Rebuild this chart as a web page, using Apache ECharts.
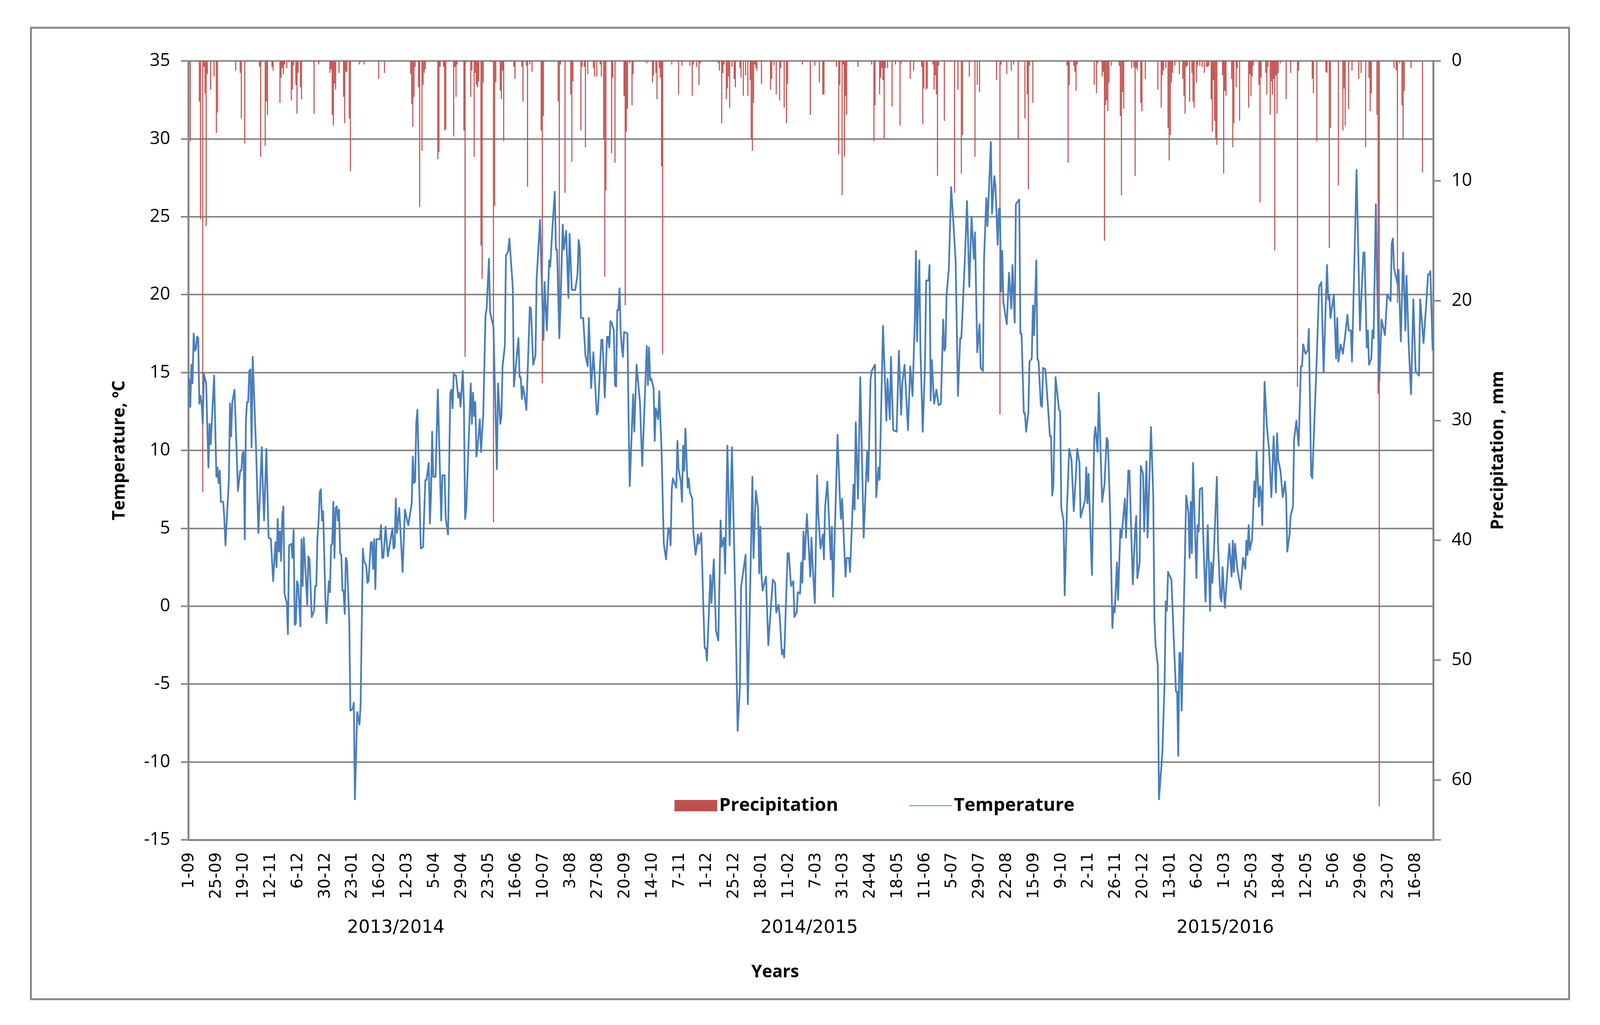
<!DOCTYPE html>
<html>
<head>
<meta charset="utf-8">
<title>Temperature and precipitation</title>
<script src="https://cdn.jsdelivr.net/npm/echarts@6/dist/echarts.min.js"></script>
<style>
  html, body { margin: 0; padding: 0; background: #fff; overflow: hidden; }
  #chart { width: 100vw; height: 100vh; }
</style>
</head>
<body>
<div id="chart"></div>
<script>
// tick labels, one every 24 days from 1 Sep 2013
var tickLabels = ['1-09','25-09','19-10','12-11','6-12','30-12','23-01','16-02','12-03','5-04','29-04','23-05','16-06','10-07','3-08','27-08','20-09','14-10','7-11','1-12','25-12','18-01','11-02','7-03','31-03','24-04','18-05','11-06','5-07','29-07','22-08','15-09','9-10','2-11','26-11','20-12','13-01','6-02','1-03','25-03','18-04','12-05','5-06','29-06','23-07','16-08'];
var dayCount = 1096;
var seasons = ['2013/2014', '2014/2015', '2015/2016'];

// [day, degrees C], turning points of the curve
var temp2013 = [[0,14.6],[1,12.8],[2,15.5],[3,14.3],[4,17.5],[5,16.4],[6,16.5],[7,17.3],[8,17.2],[9,13],[10,13.5],[11,13],[12,11.7],[13,14.9],[15,14.3],[17,8.9],[18,11.7],[19,10.4],[22,14.8],[24,8.3],[25,8.9],[26,7.9],[27,8.7],[28,6.7],[30,6.7],[31,5.6],[32,3.9],[35,8.1],[36,13],[37,10.9],[38,13.1],[40,13.9],[43,7.4],[45,8.7],[46,8.7],[47,9.8],[48,9.9],[49,4.3],[50,11.9],[51,13.1],[52,13.1],[53,15.1],[54,15.2],[55,10.2],[56,16],[59,10],[61,4.7],[64,10.2],[65,7.5],[66,5.5],[68,10.1],[70,4.4],[72,4.3],[74,1.6],[76,4.1],[77,2.5],[78,5.6],[79,3.5],[80,4.8],[81,2.9],[82,5.8],[83,6.4],[84,0.8],[86,0.2],[87,-1.8],[88,3.9],[90,4],[91,3.1],[92,4.9],[93,-1.2],[94,-1.1],[95,1.6],[96,1.4],[98,-1.3],[99,4.3],[100,1.3],[101,4.4],[104,0.1],[105,3.2],[106,3],[108,-0.7],[110,-0.3],[111,1.3],[112,1.3],[113,4.4],[114,5.4],[115,7.3],[116,7.5],[117,5.5],[118,6.1],[120,0.4],[121,-1.1],[123,1.6],[124,0.9],[125,3.9],[126,4],[127,6.7],[128,3.1],[129,6.3],[130,6.4],[131,5.5],[132,6.2],[133,3.4],[134,3.3],[135,1],[136,1],[137,-0.5],[138,3.1],[139,2.9],[141,-0.9],[142,-6.7],[144,-6.6],[145,-6.2],[146,-12.4],[148,-6.8],[150,-7.6],[151,-6.3],[153,3.7],[154,2.9],[156,2.6],[157,1.5],[158,1.6],[160,4.1],[161,4.1],[162,2.4],[163,4.3],[164,1.1],[165,4.3],[168,4.3],[169,5.2],[170,3.1],[171,3.1],[173,5.1],[175,3.2],[179,5],[180,3.7],[181,3.8],[182,6.9],[183,4.7],[185,6.3],[188,2.2],[190,6.2],[192,5.5],[193,5.2],[196,6.6],[197,9.6],[198,7.9],[199,8],[200,11.7],[201,12.6],[204,3.7],[206,3.8],[208,8.1],[209,8.1],[211,9.2],[212,5.3],[213,7.1],[214,11.2],[215,8.3],[217,8.3],[219,13.9],[222,5.5],[223,8.4],[225,8.4],[226,5.6],[228,4.6],[230,13.7],[231,13.9],[232,12.7],[233,14.9],[235,14.8],[237,13.4],[238,13.7],[239,12.8],[241,15.1],[242,12.8],[243,5.6],[244,6.2],[248,14.3],[249,11.7],[250,13.7],[251,12.2],[252,13.1],[253,9.6],[254,10.2],[256,12],[257,9.9],[259,12.3],[261,18.7],[262,19.1],[264,22.3],[265,18.9],[268,17.9],[271,8.8],[272,14.3],[274,11.7],[275,12.2],[276,15.4],[278,16.7],[279,22.5],[281,22.8],[282,23.6],[285,20.5],[286,14.1],[290,17.2],[291,14.7],[292,14.7],[293,13.3],[294,14.1],[295,13.7],[297,12.6],[300,19.2],[301,19.1],[303,15.5],[305,16.1],[306,21],[309,24.8],[312,17.1],[313,20.8],[315,17.7],[317,22.2],[318,21.8],[320,24.4],[322,26.6],[323,22.9],[324,22.9],[326,17.2],[327,19.3],[329,24.5],[330,22.9],[332,24.1],[334,19.8],[335,23.9],[337,20.3],[340,20.3],[342,21.3],[343,23.5],[344,23],[345,18.5],[347,18.5],[349,16.1],[351,15.4],[352,18.5],[354,14],[356,16.3],[359,12.3],[360,12.5],[362,15.7],[363,17.1],[364,17.1]];
var temp2014 = [[366,13.4],[368,17.3],[369,17.3],[370,16.6],[371,18.3],[372,18.2],[374,17.7],[375,14.2],[376,14.1],[377,19],[378,19],[379,20.4],[380,17.7],[381,16.6],[382,16],[383,17.6],[386,17.5],[387,11.9],[388,7.7],[391,13.6],[392,11.2],[394,15.5],[397,13.1],[398,11],[399,9],[403,16.7],[404,14.2],[405,16.6],[406,14.5],[407,14.6],[409,14],[410,10.6],[411,12.7],[413,12],[414,13.8],[416,10],[418,4],[420,3],[422,5],[423,5],[424,3.9],[425,7.5],[426,8.2],[429,7.6],[430,10.6],[431,8.8],[433,8],[434,6.7],[435,10.3],[436,8.7],[437,11.4],[439,7.6],[440,8.2],[441,7.3],[443,6.9],[444,4.8],[446,3.3],[447,3.8],[448,4.6],[449,4],[451,4.7],[453,-0.5],[454,-2.7],[455,-2.7],[456,-3.5],[459,2],[460,0.2],[462,3],[464,-1.6],[466,-2.2],[468,5.5],[469,3.8],[471,4.4],[472,2.1],[474,10.3],[476,3.9],[478,10.2],[481,0.3],[483,-8],[485,-5.2],[486,1.2],[490,3.3],[492,-6.3],[496,8.3],[497,3.1],[499,7.4],[501,6.3],[502,2.1],[503,5.1],[504,2],[505,1],[508,1.9],[510,-2.5],[514,1.7],[516,1.5],[517,-0.4],[519,0.1],[520,-0.6],[522,-3.1],[523,-2.8],[524,-3.3],[527,3.4],[528,3.4],[530,1.3],[532,1.6],[533,-0.7],[535,-0.4],[536,0.9],[538,0.8],[539,2.8],[540,1.5],[541,4.8],[542,3],[544,5.9],[547,1.9],[548,4.4],[549,2.7],[551,0.2],[553,8.4],[554,5.9],[556,3.7],[558,4.6],[559,3],[560,6.3],[562,8],[565,3],[566,5.1],[567,0.6],[571,11],[573,7],[574,5.6],[575,6.9],[578,1.9],[579,3.1],[581,3.1],[582,2.2],[585,7.8],[586,6.2],[587,11.8],[589,6.9],[591,14.7],[594,4.4],[597,9.9],[598,8],[600,14.5],[601,15.1],[604,15.5],[605,7],[607,8.9],[608,8.1],[611,18],[614,11.9],[615,14.6],[617,12],[618,16],[620,11.3],[623,11.2],[625,16.4],[627,12.3],[628,14.3],[630,15.5],[633,11.3],[635,15.4],[637,13.5],[639,18.3],[640,22.8],[641,17],[643,22.2],[644,16.4],[646,11.2],[648,15.6],[649,20.9],[651,20.9],[652,21.9],[653,13.2],[654,15.8],[656,13],[658,13.9],[660,12.9],[662,13],[664,18.4],[665,16.4],[666,16.6],[667,20],[669,21.7],[671,26.9],[673,24.6],[675,22.1],[677,13.5],[679,17.2],[680,17.2],[683,22.1],[685,26],[687,20.5],[689,25],[691,22.3],[692,24],[694,16.3],[696,18.1],[697,15.3],[699,15.1],[700,22.3],[702,26.2],[703,24.4],[706,29.8],[707,25.2],[709,27.6],[710,27],[712,23.2],[713,25.5],[714,25.5],[715,20.2],[716,22.8],[717,19.5],[720,18.1],[722,21.4],[724,19.1],[725,21.9],[727,18.2],[728,25.8]];
var temp2015 = [[731,26.1],[732,17.5],[733,17.5],[735,12.4],[736,12.4],[737,11.2],[739,12.4],[740,15.7],[742,15.9],[743,19.3],[744,17.4],[746,22.2],[747,15.9],[748,15.7],[750,12.9],[751,12.8],[752,15.3],[754,15.2],[756,13.1],[758,10.9],[759,10.9],[760,7.1],[761,7.7],[763,14.7],[764,14],[766,12.6],[767,12.5],[768,6.3],[770,5.5],[771,0.7],[773,6.3],[775,10.1],[777,9.4],[779,6.1],[781,8.6],[782,10.1],[784,9.2],[785,5.7],[789,6.8],[790,8.9],[791,6.6],[792,8.5],[795,2],[797,10.8],[798,11.5],[800,9.9],[801,13.7],[804,6.7],[806,7.8],[808,10.8],[809,10.6],[811,6.1],[813,-1.4],[814,0],[815,-0.4],[817,2.8],[818,0.4],[820,4.9],[821,4.4],[824,6.9],[825,4.4],[827,8.7],[828,8.7],[831,1.4],[833,4.9],[834,5.8],[835,1.8],[837,2.8],[838,9],[840,8.5],[841,4.8],[843,9.3],[844,4.4],[847,11.5],[849,7],[850,-0.8],[851,-2.5],[853,-3.8],[854,-12.4],[857,-9.4],[859,-4.8],[860,0.3],[861,-0.3],[862,2.2],[865,1.7],[867,-2],[869,-5.5],[870,-5.5],[871,-9.6],[872,-3],[873,-3],[874,-6.7],[878,7.1],[880,6],[881,3.1],[882,6.7],[883,3.4],[884,9.2],[887,1.8],[888,5.2],[889,4.8],[890,7.5],[892,7.6],[893,4.5],[895,0.3],[897,5.2],[899,-0.3],[900,2.8],[901,1.5],[902,2.8],[905,8.3],[906,4],[908,0.6],[909,0.3],[910,2.5],[912,-0.1],[915,3],[916,4],[918,1.9],[919,4.2],[920,2.2],[921,4],[923,2.4],[926,1.1],[928,3.1],[930,2.4],[931,4.2],[932,3.3],[933,5.2],[934,3.6],[936,4.3],[938,8],[939,7],[940,9.9],[942,6.4],[943,7.7],[944,7.3],[945,5.2],[947,14.4],[949,11.6],[951,10],[953,7],[955,10.9],[957,7.3],[958,11.1],[959,9.4],[961,8.7],[963,7],[965,8],[966,7],[967,3.5],[969,4.6],[970,5.8],[972,6.4],[973,10.7],[975,11.9],[977,10.3],[979,15.4],[980,15.4],[981,16.8],[983,16.2],[985,16.4],[986,17.8],[988,8.4],[989,8.2],[993,16],[995,20.5],[997,20.8],[999,15],[1001,19.7],[1002,21.9],[1003,19.7],[1004,20],[1005,18.5],[1008,20],[1010,15.9],[1011,18.5],[1012,15.7],[1014,16.8],[1016,16.2],[1018,17.4],[1020,18.7],[1021,17.7],[1023,17.7],[1024,15.7],[1028,28],[1031,17.7],[1034,22.7],[1035,22.7],[1037,16.6],[1038,17.7],[1039,15.5],[1041,15.9],[1042,17.7],[1043,17.2],[1045,25.8],[1046,21.3],[1048,14.4],[1050,18.4],[1053,17.4],[1055,20],[1058,19.6],[1059,23.3],[1060,23.6],[1061,21.7],[1064,20.7],[1065,21.6],[1067,17],[1069,22.7],[1071,17.7],[1072,21.2],[1074,16.6],[1076,13.6],[1078,19.7],[1080,15.1],[1083,14.8],[1084,19.7],[1087,16.9],[1089,19],[1091,21.3],[1092,21.3],[1093,21.5],[1095,16.4]];

// [day, mm], dry days are left out
var rain2013 = [[1,6.7],[9,3.4],[10,13.2],[12,36],[13,0.5],[14,2.7],[15,13.8],[16,1.1],[19,2.4],[22,1.3],[24,6],[25,4.3],[41,0.8],[45,1],[46,4.8],[49,6.9],[62,0.5],[63,8],[64,0.1],[67,7.1],[68,3.4],[69,4.5],[73,0.5],[74,0.8],[80,3.5],[81,1.4],[82,0.6],[83,1.1],[84,0.3],[86,0.6],[88,0.1],[90,3.3],[91,2.4],[92,0.4],[94,2],[95,4.4],[96,1],[98,2.2],[99,3.2],[110,4.4],[114,0.3],[115,0.1],[124,1],[125,0.7],[126,4.5],[127,5.4],[128,1.9],[129,2.4],[132,1],[136,3],[137,5.2],[138,0.9],[139,0.9],[141,4.8],[142,9.2],[150,0.3],[151,0.1],[154,0.3],[167,1.5],[172,1],[195,1.1],[196,3.6],[197,5.5],[198,3],[199,0.5],[202,2.2],[203,12.2],[205,7.5],[206,2],[207,1],[208,0.7],[219,8.2],[220,7.6],[221,0.5],[224,0.5],[225,5.8],[226,5.7],[233,6.3],[234,0.5],[235,3],[236,0.3],[242,5.8],[243,24.7],[244,0.1],[248,3],[249,0.8],[251,8],[252,1],[253,2],[254,2.2],[255,1.7],[257,15.4],[258,18.2],[259,1.8],[266,0.1],[268,38.5],[269,12.1],[270,1.8],[274,2.5],[275,3.2],[276,0.8],[277,6.7],[286,0.5],[287,1.5],[293,0.5],[294,3.4],[297,0.4],[298,10.5],[300,0.3],[302,0.9],[310,5.8],[311,26.9],[312,4.6],[325,3.4],[326,20.7],[327,0.3],[331,11],[336,2.8],[337,8.4],[338,1.7],[345,5.8],[346,0.5],[348,0.5],[349,7.2],[351,1.1],[356,0.6],[357,1.3],[359,1.3],[362,0.3],[363,1.3]];
var rain2014 = [[365,6.5],[366,18],[367,10.8],[372,7.7],[373,1.4],[375,8.5],[383,2.9],[384,20.4],[385,5.9],[386,4],[388,0.2],[390,3.7],[391,1.1],[403,0.2],[408,1.8],[409,1.2],[411,1],[412,3.2],[414,0.6],[415,1.4],[416,8.8],[417,24.5],[425,0.3],[431,2.8],[434,0.4],[441,0.4],[443,2.9],[444,0.3],[447,0.5],[449,2],[450,0.2],[466,0.2],[467,0.8],[469,5.2],[470,1],[471,0.3],[473,3.2],[474,2.3],[475,1.3],[476,3.9],[478,0.5],[480,1.5],[481,2.2],[485,0.6],[486,1.4],[488,2.9],[490,1.2],[492,2.9],[494,1.6],[495,6.5],[496,7.5],[497,3.5],[498,0.3],[499,0.6],[500,0.8],[504,1.9],[512,2.4],[513,1.5],[515,0.4],[517,2.8],[520,3.3],[521,0.6],[524,3.9],[526,5.2],[527,1.9],[540,0.3],[547,4.5],[551,0.4],[555,1.8],[558,2.8],[559,2.8],[570,0.5],[572,7.8],[573,2],[575,11.2],[576,0.3],[577,8],[578,2.9],[579,4.5],[589,0.5],[601,0.3],[603,6.7],[604,3.7],[608,2.8],[609,1.4],[610,0.6],[611,1.6],[612,6.5],[613,0.6],[615,0.6],[619,3.8],[622,0.3],[626,5.4],[627,0.2],[635,1.5],[638,0.8],[645,0.5],[646,5.3],[647,2.3],[649,2.4],[650,2.3],[655,0.3],[656,2.4],[657,1.2],[658,2.8],[659,9.6],[660,0.4],[665,5],[674,11],[677,2.4],[680,9.4],[681,6.2],[687,1.3],[692,8],[694,2],[696,2.6],[711,1.6],[714,29.5],[715,0.3],[720,1.1],[724,0.8],[726,0.3],[730,6.5]];
var rain2015 = [[736,4.8],[738,2.8],[739,10.7],[740,0.4],[743,3.5],[773,0.4],[774,8.5],[775,2],[779,0.4],[780,0.9],[781,2.5],[782,0.3],[797,2],[799,2.7],[800,0.2],[804,1.3],[805,0.9],[806,15],[807,3.7],[808,3.3],[809,4.2],[810,1.8],[812,0.4],[819,0.4],[820,4.6],[821,11.2],[822,2.6],[823,4],[825,0.1],[830,0.6],[832,0.5],[833,9.6],[834,0.6],[835,0.8],[838,3.5],[839,4.2],[842,1.5],[853,2.4],[856,3.9],[857,1.2],[858,0.8],[860,0.6],[862,5.6],[863,8.3],[864,6.2],[865,1.8],[866,1],[868,0.4],[872,1.1],[875,1.5],[876,2.9],[877,4.4],[878,0.5],[879,0.4],[881,3.4],[883,1],[884,3.4],[885,3.9],[887,1.8],[888,0.4],[890,0.4],[892,0.5],[894,1],[896,0.5],[897,0.5],[898,0.4],[900,3.2],[901,5.9],[902,1.6],[903,5],[904,6.5],[905,7],[910,1.2],[911,9.4],[912,2.5],[913,2.9],[918,1.5],[919,7.2],[920,5.2],[922,2.2],[923,0.6],[925,5],[933,3.9],[934,1.1],[935,2.9],[936,1.3],[937,0.4],[942,2],[943,11.8],[944,1.4],[948,1],[949,2.8],[950,0.5],[952,4.5],[953,1.7],[954,2.8],[955,1.5],[956,15.8],[957,1.2],[958,4.4],[959,1],[961,0.2],[966,3.2],[970,1],[976,27.2],[977,0.8],[989,1.5],[990,2.7],[993,6.7],[1001,0.9],[1002,1],[1004,15.6],[1005,5.6],[1012,10.4],[1016,5.8],[1017,2.3],[1018,5.4],[1021,4],[1024,0.8],[1030,1.5],[1032,1],[1036,7.2],[1039,1.4],[1040,4.2],[1041,2.7],[1046,4.5],[1047,27.8],[1048,62.2],[1061,0.6],[1063,0.8],[1064,20.2],[1066,0.2],[1068,3.7],[1069,6.5],[1070,2.5],[1076,0.6],[1086,9.3]];

var tempPoints = temp2013.concat(temp2014, temp2015);
var rainPoints = rain2013.concat(rain2014, rain2015);

var categories = [];
for (var i = 0; i < dayCount; i++) {
  categories.push(i % 24 === 0 ? tickLabels[i / 24] : '');
}

// layout was measured on a 4192 wide picture, follow the real window width
var sx = window.innerWidth / 4192;
var grey = '#868686';
var chart = echarts.init(document.getElementById('chart'));

function centeredText(text, x, y, font) {
  return {
    type: 'text',
    x: x * sx,
    y: y,
    style: { text: text, font: font, fill: '#000', align: 'center', verticalAlign: 'middle' }
  };
}

var option = {
  backgroundColor: '#fff',
  animation: false,
  textStyle: { fontFamily: 'Open Sans', color: '#000' },
  grid: { left: 494 * sx, right: 437 * sx, top: 156, bottom: 474 },
  legend: {
    left: 1762 * sx,
    top: 2034,
    itemWidth: 112 * sx,
    itemHeight: 29,
    itemGap: 185 * sx,
    textStyle: { fontFamily: 'Open Sans', fontWeight: 'bold', fontSize: 47, color: '#000' },
    data: [
      { name: 'Precipitation', icon: 'rect' },
      { name: 'Temperature', itemStyle: { opacity: 0 } }
    ]
  },
  xAxis: {
    type: 'category',
    data: categories,
    axisLine: { onZero: false, lineStyle: { color: grey, width: 5 } },
    axisTick: { show: false },
    axisLabel: { interval: 23, rotate: 90, fontFamily: 'DejaVu Sans', fontSize: 41, color: '#000', margin: 32 },
    splitLine: { show: false }
  },
  yAxis: [
    {
      type: 'value',
      min: -15,
      max: 35,
      interval: 5,
      name: 'Temperature, ºC',
      nameLocation: 'middle',
      nameGap: 158 * sx,
      nameTextStyle: { fontFamily: 'Open Sans', fontWeight: 'bold', fontSize: 44, color: '#000' },
      axisLine: { show: true, onZero: false, lineStyle: { color: grey, width: 5 } },
      axisTick: { show: true, length: 20 * sx, lineStyle: { color: grey, width: 4 } },
      axisLabel: { fontFamily: 'Open Sans', fontSize: 46, color: '#000', margin: 48 * sx },
      splitLine: { show: true, lineStyle: { color: grey, width: 4 } }
    },
    {
      type: 'value',
      inverse: true,
      min: 0,
      max: 65,
      interval: 10,
      position: 'right',
      name: 'Precipitation , mm',
      nameLocation: 'middle',
      nameGap: 148 * sx,
      nameRotate: 90,
      nameTextStyle: { fontFamily: 'Open Sans', fontWeight: 'bold', fontSize: 44, color: '#000' },
      axisLine: { show: true, onZero: false, lineStyle: { color: grey, width: 5 } },
      axisTick: { show: true, length: 20 * sx, lineStyle: { color: grey, width: 4 } },
      axisLabel: {
        fontFamily: 'Open Sans',
        fontSize: 46,
        color: '#000',
        margin: 48 * sx,
        formatter: function (v) { return v === 65 ? '' : v; }
      },
      splitLine: { show: false }
    }
  ],
  series: [
    {
      name: 'Precipitation',
      type: 'bar',
      yAxisIndex: 1,
      barWidth: 2.8 * sx,
      itemStyle: { color: '#c0504d' },
      data: rainPoints
    },
    {
      name: 'Temperature',
      type: 'line',
      yAxisIndex: 0,
      showSymbol: false,
      symbol: 'none',
      lineStyle: { color: '#4a7ebb', width: 4.5, join: 'round' },
      itemStyle: { color: '#4a7ebb' },
      data: tempPoints
    }
  ],
  graphic: [
    {
      type: 'rect',
      shape: { x: 81 * sx, y: 71, width: 4030 * sx, height: 2487 },
      style: { fill: 'none', stroke: grey, lineWidth: 5 }
    },
    centeredText(seasons[0], 1037, 2376, '46px "DejaVu Sans"'),
    centeredText(seasons[1], 2120, 2376, '46px "DejaVu Sans"'),
    centeredText(seasons[2], 3210, 2376, '46px "DejaVu Sans"'),
    centeredText('Years', 2031, 2489, 'bold 44px "Open Sans"')
  ]
};

chart.setOption(option);
</script>
</body>
</html>
